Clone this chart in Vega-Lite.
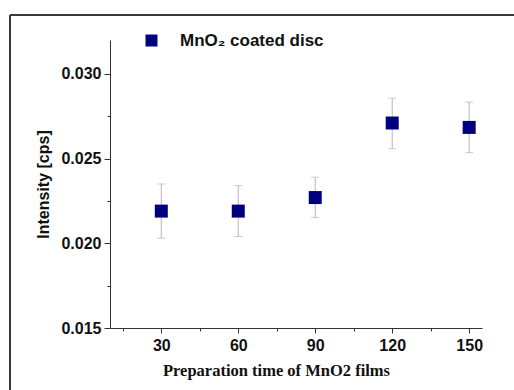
{
  "$schema": "https://vega.github.io/schema/vega-lite/v6.json",
  "autosize": "none",
  "width": 372,
  "height": 288,
  "padding": {"left": 110, "top": 40, "right": 32, "bottom": 62},
  "background": "white",
  "config": {
    "view": {"stroke": null},
    "axis": {"grid": false, "domainColor": "#333333", "tickColor": "#333333", "labelColor": "#111111", "titleColor": "#111111"}
  },
  "data": {
    "values": [
      {"time": 30, "intensity": 0.0219, "lo": 0.0203, "hi": 0.0235, "series": "MnO₂ coated disc"},
      {"time": 60, "intensity": 0.0219, "lo": 0.0204, "hi": 0.0234, "series": "MnO₂ coated disc"},
      {"time": 90, "intensity": 0.0227, "lo": 0.02153, "hi": 0.0239, "series": "MnO₂ coated disc"},
      {"time": 120, "intensity": 0.0271, "lo": 0.02559, "hi": 0.02857, "series": "MnO₂ coated disc"},
      {"time": 150, "intensity": 0.02684, "lo": 0.02535, "hi": 0.02833, "series": "MnO₂ coated disc"}
    ]
  },
  "encoding": {
    "x": {
      "field": "time", "type": "quantitative",
      "scale": {"domain": [10, 155], "nice": false, "zero": false},
      "axis": {
        "title": "Preparation time of MnO2 films",
        "values": [15, 30, 45, 60, 75, 90, 105, 120, 135, 150],
        "labelExpr": "datum.value % 30 == 0 ? datum.label : ''",
        "tickSize": {"condition": {"test": "datum.value % 30 == 0", "value": 5}, "value": 3},
        "labelFont": "Liberation Sans", "labelFontSize": 16, "labelFontWeight": "bold",
        "labelPadding": 4,
        "titleFont": "Liberation Serif", "titleFontSize": 16.5, "titleFontWeight": "bold",
        "titleX": 166, "titlePadding": 9
      }
    }
  },
  "layer": [
    {
      "mark": {"type": "rule", "color": "#b4b4c4", "strokeWidth": 1},
      "encoding": {
        "y": {"field": "lo", "type": "quantitative", "scale": {"domain": [0.015, 0.032], "nice": false, "zero": false},
          "axis": {
            "title": "Intensity [cps]",
            "values": [0.015, 0.0175, 0.02, 0.0225, 0.025, 0.0275, 0.03],
            "labelExpr": "abs(datum.value*200 - round(datum.value*200)) < 0.001 ? format(datum.value, '.3f') : ''",
            "tickSize": {"condition": {"test": "abs(datum.value*200 - round(datum.value*200)) < 0.001", "value": 6}, "value": 3},
            "labelFont": "Liberation Sans", "labelFontSize": 16, "labelFontWeight": "bold",
            "labelPadding": 3,
            "titleFont": "Liberation Sans", "titleFontSize": 16, "titleFontWeight": "bold",
            "titlePadding": 9
          }},
        "y2": {"field": "hi"}
      }
    },
    {
      "mark": {"type": "tick", "orient": "horizontal", "color": "#b4b4c4", "thickness": 1, "size": 8},
      "encoding": {"y": {"field": "lo", "type": "quantitative"}}
    },
    {
      "mark": {"type": "tick", "orient": "horizontal", "color": "#b4b4c4", "thickness": 1, "size": 8},
      "encoding": {"y": {"field": "hi", "type": "quantitative"}}
    },
    {
      "mark": {"type": "point", "shape": "square", "filled": true, "size": 169, "opacity": 1},
      "encoding": {
        "y": {"field": "intensity", "type": "quantitative"},
        "color": {
          "field": "series", "type": "nominal",
          "scale": {"range": ["#00007f"]},
          "legend": {
            "title": null, "orient": "none", "legendX": 33, "legendY": -8,
            "symbolType": "square", "symbolSize": 144, "symbolStrokeWidth": 0,
            "labelFont": "Liberation Sans", "labelFontSize": 17, "labelFontWeight": "bold",
            "labelColor": "#111111", "labelOffset": 20
          }
        }
      }
    },
    {
      "mark": {"type": "rule", "color": "#3a3a3a", "strokeWidth": 1.5, "clip": false},
      "encoding": {"x": {"datum": -28.98}, "x2": {"datum": 170}, "y": {"datum": 0.03348}}
    },
    {
      "mark": {"type": "rule", "color": "#3a3a3a", "strokeWidth": 1.5, "clip": false},
      "encoding": {"x": {"datum": -28.98}, "y": {"datum": 0.03348}, "y2": {"datum": 0.0100}}
    }
  ]
}
